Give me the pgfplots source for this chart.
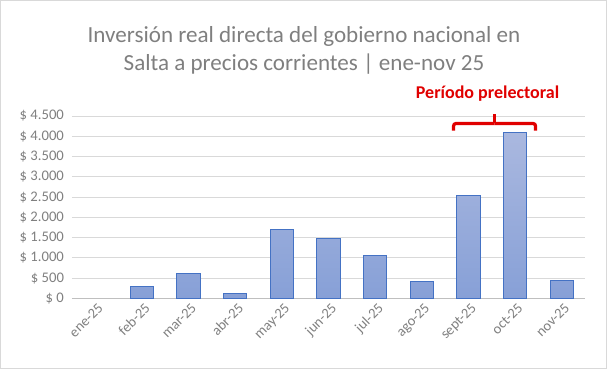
\documentclass[border=0pt]{standalone}
\usepackage{fontspec}
\setmainfont{Carlito}
\usepackage{pgfplots}
\pgfplotsset{compat=1.18}
\definecolor{txtgray}{HTML}{7F7F7F}
\definecolor{gridgray}{HTML}{D9D9D9}
\definecolor{axisgray}{HTML}{BFBFBF}
\definecolor{barline}{HTML}{4472C4}
\definecolor{bartop}{HTML}{AAB8DF}
\definecolor{barbot}{HTML}{87A0D7}
\definecolor{annred}{HTML}{E00000}
\begin{document}
\begin{tikzpicture}[x=1pt,y=1pt]
\draw[gridgray, line width=0.75pt] (0.4,0.4) rectangle (454.85,276.35);
\node[txtgray, font=\fontsize{17.3}{19}\selectfont] at (228,249) {Inversión real directa del gobierno nacional en};
\node[txtgray, font=\fontsize{17.3}{19}\selectfont] at (228,228.5) {Salta a precios corrientes | ene-nov 25};
\begin{axis}[
  at={(54pt,53pt)}, anchor=south west,
  scale only axis, width=384.75pt, height=136.7pt,
  xmin=-0.5, xmax=10.5, ymin=0, ymax=4500,
  ytick={0,500,...,4500},
  yticklabels={\$ 0,\$ 500,\$ 1.000,\$ 1.500,\$ 2.000,\$ 2.500,\$ 3.000,\$ 3.500,\$ 4.000,\$ 4.500},
  xtick={0,...,10},
  xticklabels={ene-25,feb-25,mar-25,abr-25,may-25,jun-25,jul-25,ago-25,sept-25,oct-25,nov-25},
  xticklabel style={rotate=45, anchor=north east, font=\fontsize{10.8}{12}\selectfont, text=txtgray, inner sep=1pt, yshift=-2pt, xshift=0pt},
  yticklabel style={font=\fontsize{11}{12}\selectfont, text=txtgray, xshift=-2.5pt},
  ymajorgrids, grid style={gridgray, line width=0.75pt},
  axis x line*=bottom, axis y line*=left,
  x axis line style={axisgray, line width=0.75pt, -},
  y axis line style={draw=none},
  tick style={draw=none},
  major tick length=0pt,
  clip=false,
  ybar, bar width=0.5,
]
\addplot[draw=barline, line width=0.75pt, top color=bartop, bottom color=barbot] coordinates {
(1,296) (2,617) (3,123) (4,1702) (5,1480) (6,1061) (7,419) (8,2533) (9,4095) (10,444)
};
\draw[annred, line width=2.4pt, rounded corners=2pt] (axis cs:7.68,4140) |- (axis cs:8.56,4318);
\draw[annred, line width=2.4pt, rounded corners=2pt] (axis cs:9.44,4140) |- (axis cs:8.56,4318);
\draw[annred, line width=2.4pt] (axis cs:8.56,4318) -- (axis cs:8.56,4560);
\node[annred, font=\fontsize{13.5}{15}\selectfont\bfseries] at (axis cs:8.41,5050) {Período prelectoral};
\end{axis}
\end{tikzpicture}
\end{document}
